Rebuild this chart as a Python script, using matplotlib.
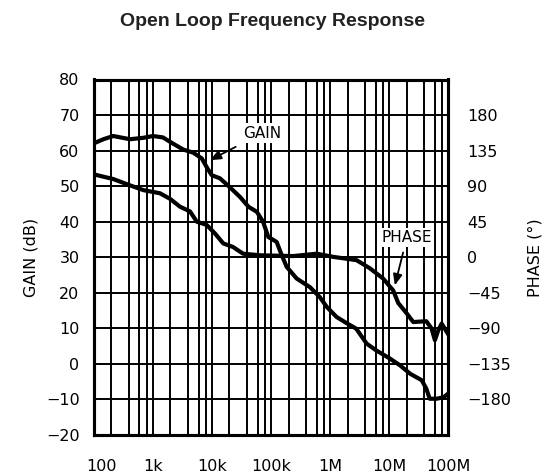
import matplotlib
matplotlib.use("Agg")
import matplotlib.pyplot as plt
import matplotlib.transforms as mtransforms
from matplotlib.ticker import FixedLocator, NullFormatter

# ---- data ----
gain_freq = [100, 147, 216, 415, 697, 1.02e3, 1.5e3, 2.2e3, 3.3e3, 4.9e3, 6.8e3,
             8.2e3, 10e3, 13.8e3, 20e3, 30e3, 42e3, 58e3, 74e3, 91e3, 126e3,
             150e3, 186e3, 275e3, 460e3, 676e3, 890e3, 1.3e6, 2e6, 2.8e6, 4.2e6,
             6.1e6, 10.4e6, 15.4e6, 23e6, 36e6, 43e6, 49e6, 64e6, 84e6, 100e6]
gain_db = [62.0, 63.2, 64.1, 63.2, 63.6, 64.1, 63.7, 62.0, 60.3, 59.4, 57.8,
           55.4, 53.1, 52.2, 49.8, 47.0, 44.2, 42.8, 40.0, 35.7, 34.3,
           31.0, 27.3, 24.0, 21.6, 18.8, 16.0, 13.2, 11.3, 9.9, 5.7,
           3.8, 1.5, -0.4, -2.8, -4.6, -7.0, -9.8, -9.8, -9.4, -8.4]

phase_freq = [100, 216, 415, 697, 1.33e3, 1.97e3, 2.91e3, 4.3e3, 5.6e3, 8.2e3,
              11.4e3, 15.7e3, 23e3, 34e3, 66e3, 240e3, 600e3, 1.14e6, 2.84e6,
              4.76e6, 8e6, 11.8e6, 14.4e6, 20e6, 25.8e6, 43e6, 52.6e6, 60e6,
              68e6, 78e6, 100e6]
phase_deg = [105, 99, 91, 85, 81, 74, 64, 58, 45, 41,
             30, 17.5, 13, 4.5, 2.5, 1.5, 4.5, 0.5, -3.7,
             -14, -27, -42, -58, -71, -82, -81, -90, -105,
             -93, -84, -97]

x_ticks = [100, 1e3, 1e4, 1e5, 1e6, 1e7, 1e8]
x_labels = ["100", "1k", "10k", "100k", "1M", "10M", "100M"]
gain_ticks = list(range(-20, 81, 10))
phase_ticks = list(range(-180, 181, 45))

title = "Open Loop Frequency Response"

# ---- figure ----
fig = plt.figure(figsize=(5.45, 4.74), dpi=100)
ax = fig.add_axes([93.5 / 545, 1 - 435 / 474, 354.5 / 545, 355.5 / 474])
ax2 = ax.twinx()

ax.set_xscale("log")
ax.set_xlim(100, 1e8)
ax.set_ylim(-20, 80)
ax2.set_ylim(-225, 225)

# grid lines at 1,2,4,6,8 per decade
minor = [m * 10 ** e for e in range(2, 8) for m in (2, 4, 6, 8)]
ax.xaxis.set_major_locator(FixedLocator(x_ticks))
ax.xaxis.set_minor_locator(FixedLocator(minor))
ax.xaxis.set_minor_formatter(NullFormatter())
ax.set_xticks(x_ticks)
ax.set_xticklabels(x_labels)
ax.set_yticks(gain_ticks)
ax2.set_yticks(phase_ticks)

ax.grid(True, which="both", axis="x", color="black", lw=1.4)
ax.grid(True, which="major", axis="y", color="black", lw=1.4)
ax.set_axisbelow(True)

font = "DejaVu Sans"
ax.tick_params(axis="both", which="both", length=0)
ax.tick_params(axis="x", pad=17, labelsize=11.5)
ax.tick_params(axis="y", pad=10, labelsize=11.5)
ax2.tick_params(axis="y", which="both", length=0, pad=14, labelsize=11.5)
for lab in ax.get_xticklabels() + ax.get_yticklabels() + ax2.get_yticklabels():
    lab.set_family(font)

# shift the "100" label a bit right like the reference
off = mtransforms.ScaledTranslation(8 / 100, 0, fig.dpi_scale_trans)
first = ax.get_xticklabels()[0]
first.set_transform(first.get_transform() + off)

for sp in list(ax.spines.values()) + list(ax2.spines.values()):
    sp.set_linewidth(2.2)
    sp.set_color("black")

# curves
ax.plot(gain_freq, gain_db, color="black", lw=3.0, solid_joinstyle="round",
        zorder=4)
ax2.plot(phase_freq, phase_deg, color="black", lw=3.0, solid_joinstyle="round",
         zorder=4)

# annotations
bbox = dict(boxstyle="square,pad=0.15", fc="white", ec="none")
ax.annotate("GAIN", xy=(9.35e3, 57.3), xytext=(71e3, 64.9),
            ha="center", va="center", fontsize=11, family=font, bbox=bbox,
            arrowprops=dict(arrowstyle="-|>,head_length=0.6,head_width=0.25",
                            color="black", lw=1.3, shrinkA=6, shrinkB=0),
            zorder=5)
ax.annotate("PHASE", xy=(12.6e6, 22.1), xytext=(20.2e6, 35.6),
            ha="center", va="center", fontsize=11, family=font, bbox=bbox,
            arrowprops=dict(arrowstyle="-|>,head_length=0.6,head_width=0.25",
                            color="black", lw=1.3, shrinkA=4, shrinkB=0),
            zorder=5)

ax.set_ylabel("GAIN (dB)", fontsize=11.5, family=font, rotation=90,
              va="center", ha="center")
ax.yaxis.set_label_coords((31 - 93.5) / 354.5, 0.5)
ax2.set_ylabel("PHASE (°)", fontsize=11.5, family=font, rotation=90,
               va="center", ha="center")
ax2.yaxis.set_label_coords((535 - 93.5) / 354.5, 0.5)

fig.text(273 / 545, 1 - 22 / 474, title, ha="center", va="center",
         fontsize=14, fontweight="bold", family="Liberation Sans",
         color="#222222")

fig.savefig("out.png", dpi=100)
